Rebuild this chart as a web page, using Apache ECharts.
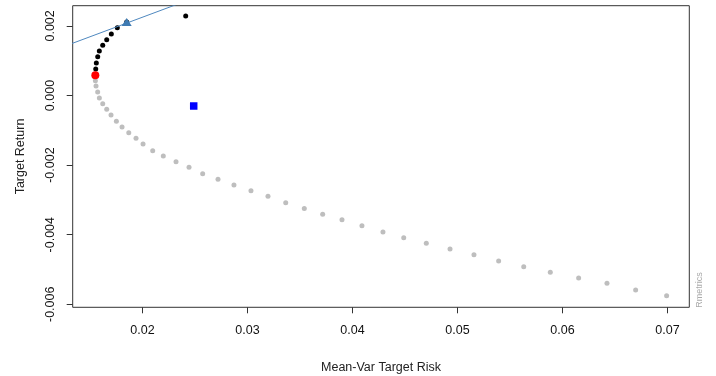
<!DOCTYPE html>
<html>
<head>
<meta charset="utf-8">
<script src="https://cdn.jsdelivr.net/npm/echarts@6/dist/echarts.min.js"></script>
<style>
html,body{margin:0;padding:0;background:#fff;}
#chart{width:716px;height:376px;}
</style>
</head>
<body>
<div id="chart"></div>
<script>
// Lower (inefficient) frontier points - grey
const lowerRisk = [0.01551,0.01557,0.01573,0.01589,0.01621,0.01659,0.01700,0.01751,0.01805,0.01869,0.01938,0.02005,0.02097,0.02198,0.02319,0.02443,0.02573,0.02719,0.02871,0.03033,0.03195,0.03364,0.03541,0.03716,0.03900,0.04090,0.04290,0.04488,0.04703,0.04929,0.05157,0.05392,0.05631,0.05884,0.06154,0.06424,0.06697,0.06992];
const lowerReturn = [0.000425,0.000273,0.000101,-0.000072,-0.000236,-0.000397,-0.000560,-0.000741,-0.000905,-0.001069,-0.001230,-0.001394,-0.001586,-0.001739,-0.001902,-0.002063,-0.002247,-0.002408,-0.002572,-0.002736,-0.002897,-0.003080,-0.003247,-0.003414,-0.003569,-0.003741,-0.003922,-0.004086,-0.004247,-0.004411,-0.004575,-0.004756,-0.004920,-0.005080,-0.005244,-0.005397,-0.005589,-0.005753];
// Upper (efficient) frontier points - black
const upperRisk = [0.015543,0.015600,0.015733,0.015886,0.016210,0.016590,0.017029,0.017600,0.018495,0.024114];
const upperReturn = [0.000761,0.000934,0.001115,0.001279,0.001443,0.001603,0.001767,0.001948,0.002112,0.002284];
// Minimum variance portfolio - red
const minVarRisk = [0.015505];
const minVarReturn = [0.000580];
// Tangency portfolio - triangle
const tangencyRisk = [0.018495];
const tangencyReturn = [0.002112];
// Tangency (capital market) line endpoints
const cmlRisk = [0.0, 0.025];
const cmlReturn = [0.0, 0.0028125];
// Equal weights portfolio - blue square
const ewRisk = [0.024876];
const ewReturn = [-0.000302];
// Axis ticks
const xTicks = [0.02,0.03,0.04,0.05,0.06,0.07];
const yTicks = [-0.006,-0.004,-0.002,0.000,0.002];

const zip = (a,b) => a.map((v,i)=>[v,b[i]]);
const font = '"Liberation Sans", Arial, sans-serif';

const chart = echarts.init(document.getElementById('chart'), null, {renderer:'canvas'});
chart.setOption({
  animation:false,
  backgroundColor:'#ffffff',
  grid:{left:72.7,right:26.7,top:5.7,bottom:68.7,show:true,borderColor:'#333',borderWidth:1,backgroundColor:'transparent',containLabel:false,outerBoundsMode:'none'},
  xAxis:{
    type:'value',min:0.01335,max:0.07208,
    name:'Mean-Var Target Risk',nameLocation:'middle',nameGap:54,
    nameTextStyle:{fontFamily:font,fontSize:12.5,color:'#222'},
    axisLine:{show:false,onZero:false},
    splitLine:{show:false},
    axisTick:{show:true,inside:false,length:6,customValues:xTicks,lineStyle:{color:'#333'}},
    axisLabel:{customValues:xTicks,margin:17,fontFamily:font,fontSize:12.5,color:'#111',formatter:v=>v.toFixed(2)}
  },
  yAxis:{
    type:'value',min:-0.006086,max:0.00258,
    name:'Target Return',nameLocation:'middle',nameGap:46,nameRotate:90,
    nameTextStyle:{fontFamily:font,fontSize:12.5,color:'#222'},
    axisLine:{show:false,onZero:false},
    splitLine:{show:false},
    axisTick:{show:true,inside:false,length:6,customValues:yTicks,lineStyle:{color:'#333'}},
    axisLabel:{customValues:yTicks,rotate:90,margin:16,fontFamily:font,fontSize:12.5,color:'#111',formatter:v=>v.toFixed(3)}
  },
  series:[
    {type:'scatter',data:zip(lowerRisk,lowerReturn),symbol:'circle',symbolSize:5,itemStyle:{color:'#bebebe',opacity:1},z:2},
    {type:'scatter',data:zip(upperRisk,upperReturn),symbol:'circle',symbolSize:5,itemStyle:{color:'#000',opacity:1},z:3},
    {type:'scatter',data:zip(minVarRisk,minVarReturn),symbol:'circle',symbolSize:8,itemStyle:{color:'#ff0000',opacity:1},z:4},
    {type:'line',data:zip(cmlRisk,cmlReturn),symbol:'none',clip:true,lineStyle:{color:'#4f88bf',width:1},z:5},
    {type:'scatter',data:zip(tangencyRisk,tangencyReturn),symbol:'triangle',symbolSize:[10,8],itemStyle:{color:'#3f7bb3',opacity:1},z:6},
    {type:'scatter',data:zip(ewRisk,ewReturn),symbol:'rect',symbolSize:7.5,itemStyle:{color:'#0000ff',opacity:1},z:6}
  ],
  graphic:[
    {type:'text',x:699.5,y:290,rotation:Math.PI/2,style:{text:'Rmetrics',fontFamily:font,fontSize:9,fill:'#aaaaaa',align:'center',verticalAlign:'middle'}}
  ]
});
</script>
</body>
</html>
